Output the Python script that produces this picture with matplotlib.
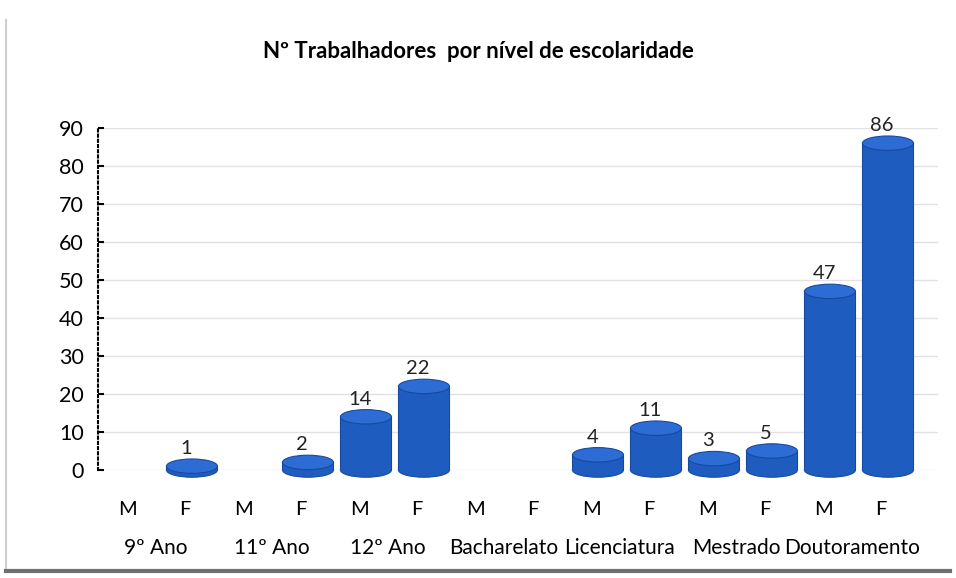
import matplotlib.pyplot as plt
from matplotlib.patches import Ellipse, Rectangle
from matplotlib.lines import Line2D

plt.rcParams['font.family'] = ['Lato', 'DejaVu Sans']

# dados
niveis = ['9º Ano', '11º Ano', '12º Ano', 'Bacharelato', 'Licenciatura', 'Mestrado', 'Doutoramento']
sexo = ['M', 'F']
masculino = [0, 0, 14, 0, 4, 3, 47]
feminino = [1, 2, 22, 0, 11, 5, 86]

valores = []
for m, f in zip(masculino, feminino):
    valores += [m, f]

fig = plt.figure(figsize=(9.56, 5.78), dpi=100)
ax = fig.add_axes([98 / 956, 108 / 578, 840 / 956, 342 / 578])

ax.set_xlim(-0.5, 14 * 840 / 812 - 0.5)
ax.set_ylim(0, 90)

cor = '#1f5cc0'
cor_topo = '#2c6cd4'
cor_borda = '#174a9e'
largura = 0.88
elip = 3.8

for i, v in enumerate(valores):
    if v == 0:
        continue
    x = i + 0.12
    ax.add_patch(Ellipse((x, 0), largura, elip, facecolor=cor, edgecolor=cor_borda,
                         lw=0.8, clip_on=False, zorder=3))
    ax.add_patch(Rectangle((x - largura / 2, 0), largura, v, facecolor=cor,
                           edgecolor='none', clip_on=False, zorder=3))
    ax.plot([x - largura / 2, x - largura / 2], [0, v], color=cor_borda, lw=0.8, zorder=4)
    ax.plot([x + largura / 2, x + largura / 2], [0, v], color=cor_borda, lw=0.8, zorder=4)
    ax.add_patch(Ellipse((x, v), largura, elip, facecolor=cor_topo, edgecolor=cor_borda,
                         lw=0.8, clip_on=False, zorder=5))
    ax.text(x - 0.1, v + 2.4, str(v), ha='center', va='bottom', fontsize=14.5,
            color='#222222', zorder=6)

# grelha
for y in range(0, 100, 10):
    ax.axhline(y, color='#e2e2e2', lw=1, zorder=1)

ax.set_yticks(range(0, 100, 10))
ax.tick_params(axis='y', labelsize=15.5, length=4, width=1.5, direction='in', pad=10)
ax.set_xticks(range(14))
ax.set_xticklabels(sexo * 7, fontsize=14.5)
ax.tick_params(axis='x', length=0, pad=22)

for s in ['top', 'right', 'bottom']:
    ax.spines[s].set_visible(False)
ax.spines['left'].set_linestyle((0, (1, 1.5)))
ax.spines['left'].set_linewidth(1.5)

for k, nome in enumerate(niveis):
    ax.text(2 * k + 0.5, -20.5, nome, ha='center', va='center', fontsize=15,
            transform=ax.transData, clip_on=False)

fig.text(0.5, 1 - 52 / 578, 'Nº Trabalhadores  por nível de escolaridade',
         ha='center', va='center', fontsize=16, fontweight='bold')

# moldura
fig.add_artist(Line2D([6 / 956, 6 / 956], [10 / 578, 1 - 20 / 578], color='#cfcfcf', lw=1.5))
fig.add_artist(Line2D([6 / 956, 950 / 956], [7 / 578, 7 / 578], color='#6f6f6f', lw=3))

fig.savefig('out.png', dpi=100)
